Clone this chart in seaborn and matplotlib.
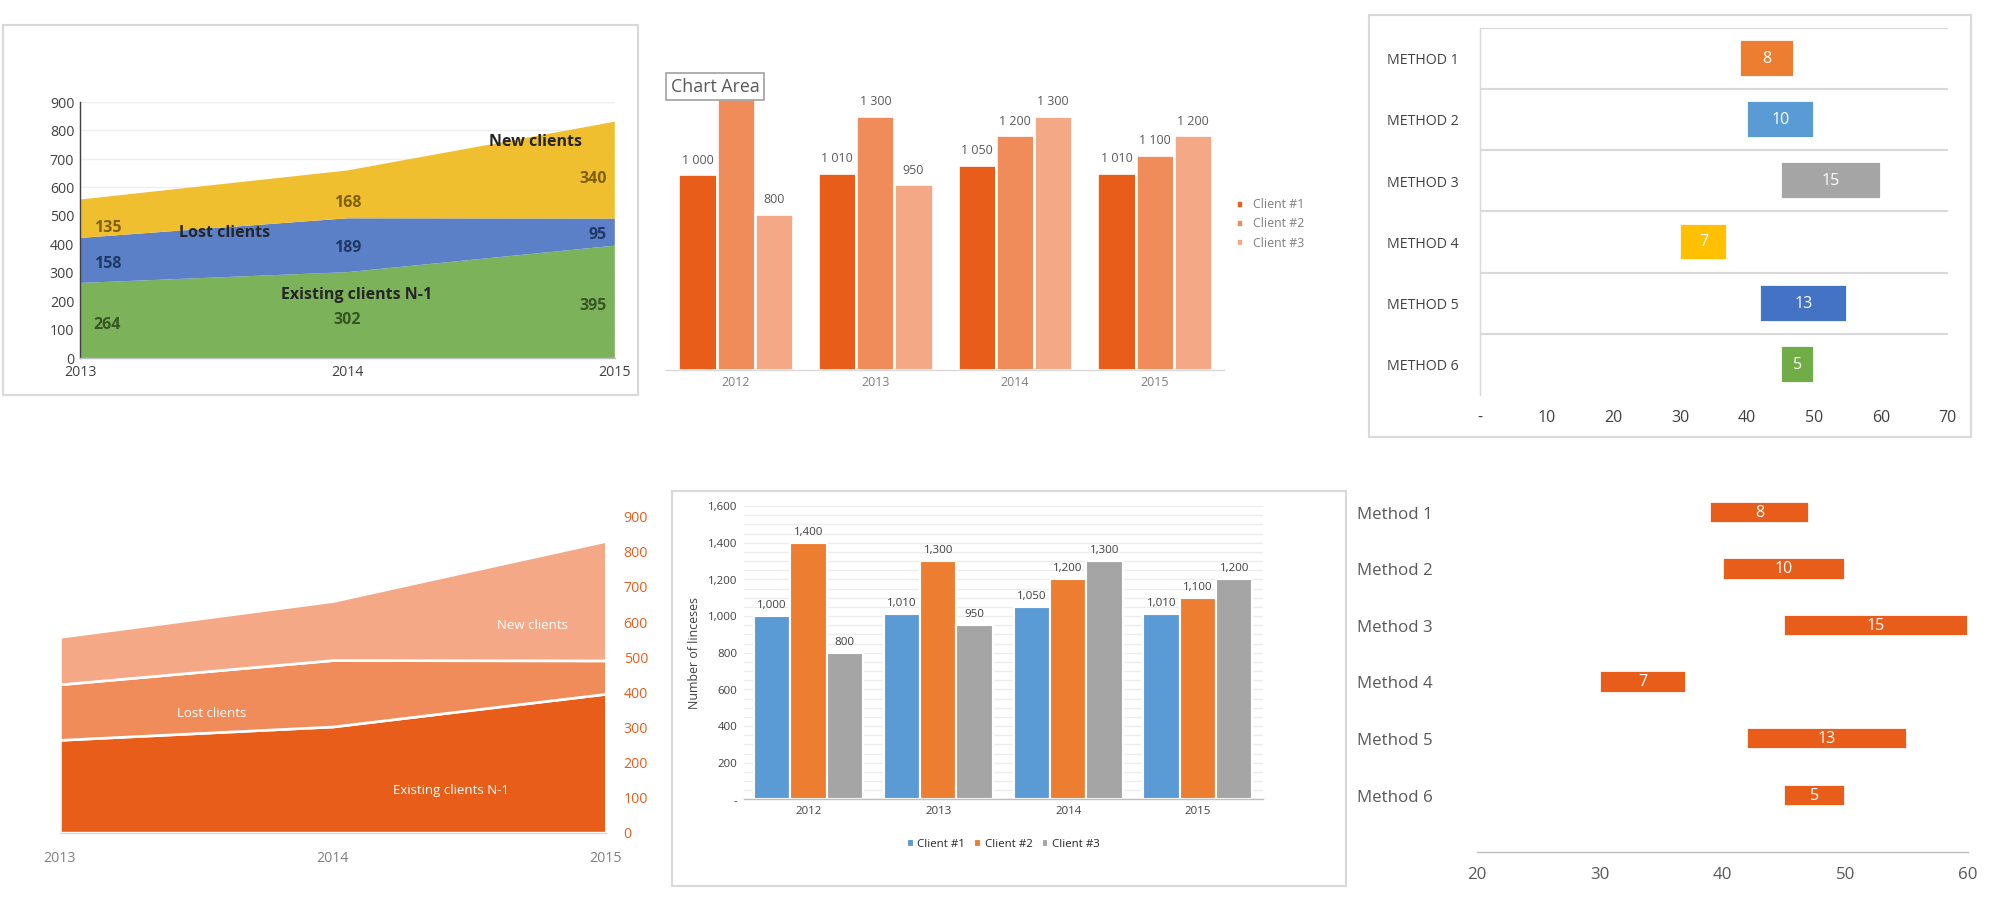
#Client and method charts - six panels
import seaborn as sns
import numpy as np
import pandas as pd
import matplotlib.pyplot as plt
from matplotlib.patches import Rectangle

years_area = [2013, 2014, 2015]
existing = [264, 302, 395]
lost = [158, 189, 95]
new = [135, 168, 340]

bar_years = ['2012', '2013', '2014', '2015']
client1 = [1000, 1010, 1050, 1010]
client2 = [1400, 1300, 1200, 1100]
client3 = [800, 950, 1300, 1200]
clients = ['Client #1', 'Client #2', 'Client #3']

methods = ['Method 1', 'Method 2', 'Method 3', 'Method 4', 'Method 5', 'Method 6']
method_start = [39, 40, 45, 30, 42, 45]
method_len = [8, 10, 15, 7, 13, 5]

W, H = 1568.0, 716.0  # layout grid the positions below are measured on


def fx(px):
    return px / W


def fy(py):
    return 1 - py / H


def axes_px(fig, x0, y0, x1, y1):
    return fig.add_axes([fx(x0), fy(y1), fx(x1 - x0), fy(y0) - fy(y1)])


def frame(fig, x0, y0, x1, y1):
    fig.patches.append(Rectangle((fx(x0), fy(y1)), fx(x1 - x0), fy(y0) - fy(y1),
                                 transform=fig.transFigure, fill=False,
                                 edgecolor='#d9d9d9', lw=1.2, zorder=0))


def bar_frame():
    df = pd.DataFrame({'Year': bar_years * 3,
                       'Client': sum([[c] * 4 for c in clients], []),
                       'Value': client1 + client2 + client3})
    return df


def fmt_space(v):
    return '{:,}'.format(v).replace(',', ' ')


sns.set_style("white")
plt.rcParams['font.family'] = ['Open Sans', 'DejaVu Sans']
fig = plt.figure(figsize=(15.68, 7.16), dpi=2000 / 15.68)

# Stacked area with labels
frame(fig, 2, 20, 500, 310)
ax1 = axes_px(fig, 63, 80, 482, 281)
ax1.stackplot(years_area, existing, lost, new,
              colors=['#7cb25a', '#5b80c8', '#f0bf2f'], edgecolor='none')
ax1.set_xlim(2013, 2015)
ax1.set_ylim(0, 900)
ax1.set_yticks(range(0, 901, 100))
ax1.set_xticks(years_area)
ax1.tick_params(labelsize=8, colors='#404040', length=0)
ax1.yaxis.grid(True, color='#eeeeee')
ax1.set_axisbelow(True)
for s in ['top', 'right']:
    ax1.spines[s].set_visible(False)
ax1.spines['left'].set_color('#404040')
ax1.spines['bottom'].set_color('#bfbfbf')
pos = [2013.05, 2014, 2014.97]
for i, x in enumerate(pos):
    ha = 'left' if i == 0 else ('center' if i == 1 else 'right')
    ax1.text(x, existing[i] / 2 - 15, str(existing[i]), ha=ha, va='center',
             fontsize=9, fontweight='bold', color='#375623')
    ax1.text(x, existing[i] + lost[i] / 2 - 10, str(lost[i]), ha=ha, va='center',
             fontsize=9, fontweight='bold', color='#1f3864')
    ax1.text(x, existing[i] + lost[i] + new[i] / 2 - 30, str(new[i]), ha=ha, va='center',
             fontsize=9, fontweight='bold', color='#7f6000')
ax1.text(2013.75, 210, 'Existing clients N-1', fontsize=9, fontweight='bold')
ax1.text(2013.37, 425, 'Lost clients', fontsize=9, fontweight='bold')
ax1.text(2014.53, 745, 'New clients', fontsize=9, fontweight='bold')

# Grouped bars, orange shades
df = bar_frame()
oranges = ['#e95d1a', '#f08c5a', '#f5a886']
ax2 = axes_px(fig, 522, 70, 960, 290)
sns.barplot(data=df, x='Year', y='Value', hue='Client', palette=oranges,
            saturation=1, ax=ax2, width=0.82, edgecolor='white', linewidth=1.5)
ax2.set_ylim(0, 1438)
ax2.set_xlabel('')
ax2.set_ylabel('')
ax2.set_yticks([])
ax2.tick_params(labelsize=7, colors='#7f7f7f', length=0)
for s in ['top', 'right', 'left']:
    ax2.spines[s].set_visible(False)
ax2.spines['bottom'].set_color('#d9d9d9')
for cont in ax2.containers:
    for rect, v in zip(cont, cont.datavalues):
        if v >= 1400:
            continue
        ax2.text(rect.get_x() + rect.get_width() / 2, v + 40, fmt_space(int(v)),
                 ha='center', va='bottom', fontsize=7, color='#595959')
ax2.legend(loc='center left', bbox_to_anchor=(1.0, 0.52), frameon=False,
           fontsize=7, labelcolor='#7f7f7f', handlelength=0.6, handleheight=0.6)
fig.text(fx(526), fy(72), 'Chart Area', fontsize=10, color='#595959',
         bbox=dict(boxstyle='square,pad=0.25', fc='white', ec='#a6a6a6'))

# Floating bars, coloured
frame(fig, 1073, 12, 1545, 343)
ax3 = axes_px(fig, 1160, 22, 1527, 310)
colors3 = ['#ed7d31', '#5b9bd5', '#a5a5a5', '#ffc000', '#4472c4', '#70ad47']
ypos = np.arange(len(methods))
ax3.barh(ypos, method_len, left=method_start, height=0.6, color=colors3)
for i in ypos:
    ax3.text(method_start[i] + method_len[i] / 2, i, str(method_len[i]),
             ha='center', va='center', color='white', fontsize=9)
    ax3.axhline(i - 0.5, color='#d9d9d9', lw=1.2)
ax3.set_ylim(len(methods) - 0.5, -0.5)
ax3.set_xlim(0, 70)
ax3.set_yticks(ypos)
ax3.set_yticklabels(['METHOD ' + m[-1] for m in methods], fontsize=8, color='#404040')
for t in ax3.get_yticklabels():
    t.set_fontstretch('expanded')
ax3.set_xticks(range(0, 71, 10))
ax3.set_xticklabels(['-'] + [str(v) for v in range(10, 71, 10)])
ax3.tick_params(axis='x', labelsize=9, colors='#404040', length=0, pad=8)
ax3.tick_params(axis='y', length=0, pad=12)
for s in ['top', 'right', 'bottom']:
    ax3.spines[s].set_visible(False)
ax3.spines['left'].set_color('#d9d9d9')

# Area chart, orange shades, right axis
ax4 = axes_px(fig, 47, 405, 475, 653)
ax4.stackplot(years_area, existing, lost, new,
              colors=['#e95d1a', '#f08c5a', '#f5a886'], edgecolor='white', lw=1.5)
ax4.set_xlim(2013, 2015)
ax4.set_ylim(0, 900)
ax4.yaxis.tick_right()
ax4.set_yticks(range(0, 901, 100))
ax4.set_xticks(years_area)
ax4.tick_params(axis='y', labelsize=8, colors='#e95d1a', length=0, pad=10)
ax4.tick_params(axis='x', labelsize=8, colors='#7f7f7f', length=0, pad=10)
for s in ['top', 'right', 'left']:
    ax4.spines[s].set_visible(False)
ax4.spines['bottom'].set_color('#d9d9d9')
ax4.text(2014.22, 110, 'Existing clients N-1', fontsize=7.5, color='white')
ax4.text(2013.43, 330, 'Lost clients', fontsize=7.5, color='white')
ax4.text(2014.6, 580, 'New clients', fontsize=7.5, color='white')

# Grouped bars with grid and axis title
frame(fig, 527, 385, 1055, 695)
ax5 = axes_px(fig, 583, 397, 990, 627)
sns.barplot(data=df, x='Year', y='Value', hue='Client',
            palette=['#5b9bd5', '#ed7d31', '#a5a5a5'], saturation=1, ax=ax5,
            width=0.84, edgecolor='white', linewidth=1.2)
ax5.set_ylim(0, 1600)
ax5.set_yticks(range(0, 1601, 200))
ax5.set_yticklabels(['-'] + ['{:,}'.format(v) for v in range(200, 1601, 200)])
ax5.yaxis.set_minor_locator(plt.MultipleLocator(50))
ax5.yaxis.grid(True, which='both', color='#ececec', lw=0.8)
ax5.set_axisbelow(True)
ax5.set_xlabel('')
ax5.set_ylabel('Number of linceses', fontsize=7, color='#404040')
ax5.tick_params(labelsize=6.5, colors='#404040', length=0)
for s in ['top', 'right', 'left']:
    ax5.spines[s].set_visible(False)
ax5.spines['bottom'].set_color('#bfbfbf')
for cont in ax5.containers:
    ax5.bar_label(cont, labels=['{:,}'.format(int(v)) for v in cont.datavalues],
                  fontsize=6.5, color='#404040', padding=3)
ax5.legend(loc='upper center', bbox_to_anchor=(0.5, -0.1), ncol=3, frameon=False,
           fontsize=6.5, handlelength=0.6, handleheight=0.6, columnspacing=0.8,
           handletextpad=0.3)

# Floating bars, orange
ax6 = axes_px(fig, 1158, 380, 1543, 668)
ax6.barh(ypos, method_len, left=method_start, height=0.38, color='#e95d1a')
for i in ypos:
    ax6.text(method_start[i] + method_len[i] / 2, i, str(method_len[i]),
             ha='center', va='center', color='white', fontsize=9)
ax6.set_ylim(len(methods) - 0.0, -0.5)
ax6.set_xlim(20, 60)
ax6.set_yticks(ypos)
ax6.set_yticklabels(methods, fontsize=9.5, color='#595959')
ax6.set_xticks(range(20, 61, 10))
ax6.tick_params(axis='x', labelsize=9.5, colors='#595959', length=5, color='#bfbfbf')
ax6.tick_params(axis='y', length=0, pad=25)
for s in ['top', 'right', 'left']:
    ax6.spines[s].set_visible(False)
ax6.spines['bottom'].set_color('#bfbfbf')

fig.savefig('out.png', dpi=2000 / 15.68)
